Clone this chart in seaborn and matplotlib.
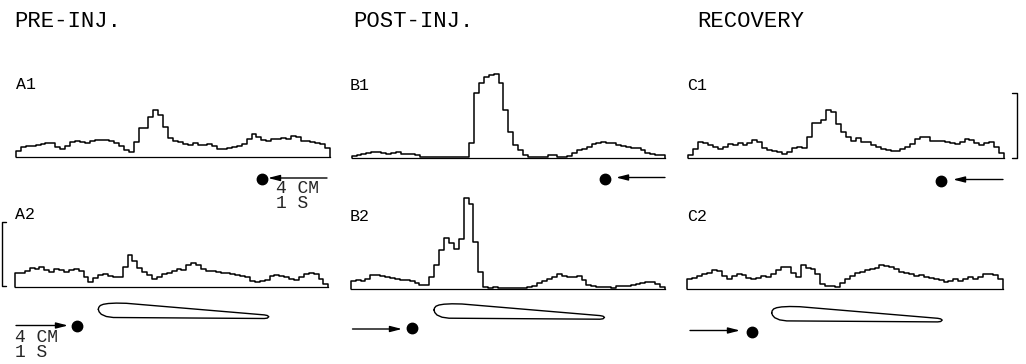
import numpy as np
import pandas as pd
import matplotlib
matplotlib.use("Agg")
import matplotlib.pyplot as plt
import seaborn as sns

# ---- data: binned response traces (arbitrary rate units), 64 bins each ----
A1 = [18, 30, 33, 32, 35, 38, 40, 40, 28, 22,
      33, 45, 48, 44, 42, 47, 50, 50, 50, 48,
      42, 33, 20, 15, 45, 85, 87, 120, 140, 125,
      90, 55, 48, 45, 38, 34, 40, 36, 36, 38,
      33, 24, 22, 27, 30, 32, 38, 52, 68, 58,
      50, 48, 53, 52, 57, 54, 62, 60, 48, 46,
      43, 41, 37, 25]
B1 = [4, 9, 12, 13, 16, 18, 13, 11, 15, 17,
      12, 10, 10, 8, 3, 1, 1, 1, 1, 1,
      1, 1, 1, 1, 43, 193, 223, 241, 248, 251,
      225, 143, 78, 38, 23, 8, 3, 3, 3, 3,
      7, 8, 3, 1, 5, 13, 22, 25, 31, 40,
      45, 46, 45, 43, 38, 36, 32, 30, 28, 22,
      15, 10, 8, 9]
C1 = [10, 28, 50, 47, 40, 35, 27, 33, 43, 40,
      47, 40, 47, 55, 48, 30, 26, 23, 20, 14,
      18, 30, 33, 30, 65, 105, 107, 115, 145, 138,
      103, 80, 65, 53, 60, 50, 50, 40, 33, 28,
      25, 23, 23, 27, 33, 42, 57, 65, 65, 53,
      52, 52, 50, 46, 43, 50, 57, 55, 47, 41,
      45, 50, 35, 15]
A2 = [42, 42, 48, 57, 52, 60, 50, 43, 52, 50,
      45, 50, 53, 46, 28, 14, 26, 35, 38, 32,
      28, 28, 60, 95, 78, 57, 44, 35, 22, 28,
      38, 40, 47, 52, 50, 65, 70, 65, 52, 48,
      47, 45, 42, 40, 38, 36, 33, 28, 17, 14,
      16, 20, 32, 35, 32, 28, 24, 20, 28, 38,
      42, 38, 22, 8]
B2 = [24, 25, 22, 30, 40, 42, 38, 34, 31, 29,
      27, 26, 22, 16, 12, 11, 36, 70, 115, 151,
      138, 118, 150, 272, 255, 140, 50, 6, 2, 4,
      2, 1, 1, 1, 1, 1, 4, 8, 16, 22,
      28, 34, 43, 38, 35, 34, 38, 26, 12, 7,
      6, 4, 4, 3, 8, 8, 7, 11, 14, 18,
      21, 19, 13, 4]
C2 = [31, 35, 40, 45, 49, 57, 56, 40, 31, 40,
      47, 42, 33, 30, 33, 40, 36, 46, 58, 68,
      66, 48, 38, 72, 65, 60, 45, 15, 9, 10,
      7, 20, 30, 40, 48, 52, 57, 60, 65, 72,
      70, 66, 60, 53, 50, 45, 40, 44, 38, 34,
      31, 28, 22, 25, 30, 25, 32, 36, 32, 38,
      46, 47, 42, 30]

COLUMN_TITLES = ["PRE-INJ.", "POST-INJ.", "RECOVERY"]
PANEL_LABELS = ["A1", "B1", "C1", "A2", "B2", "C2"]
SCALE_TEXT = ["4 CM", "1 S"]

# fish outline (shape relative to its nose)
FISH_DX = [0, 0.5, 2, 5, 10, 18, 28, 166, 169, 170.5, 169, 166, 15, 8, 3, 0.8, 0]
FISH_DY = [0, -2, -3.8, -5, -5.8, -6.2, -6, 5.6, 6.2, 7.4, 8.8, 9.2, 8.2, 7.2, 5, 2.5, 0]

# ---- style ----
sns.set_style("white")
plt.rcParams["font.family"] = ["Liberation Mono", "DejaVu Sans Mono"]

W, H = 1026, 364
fig = plt.figure(figsize=(W / 100, H / 100), dpi=100)
fig.patch.set_facecolor("white")

YMAX = 300  # 3 units per pixel, axes 100 px tall


def px_axes(left, right, baseline, height=100):
    return fig.add_axes([left / W, 1 - baseline / H, (right - left) / W, height / H])


layout = [
    ("A1", A1, 16.0, 330.0, 156.7),
    ("B1", B1, 351.7, 665.0, 157.7),
    ("C1", C1, 688.3, 1004.0, 158.3),
    ("A2", A2, 15.0, 328.3, 286.7),
    ("B2", B2, 350.7, 665.0, 288.7),
    ("C2", C2, 687.3, 1002.7, 289.3),
]

for name, vals, left, right, base in layout:
    ax = px_axes(left, right, base)
    n = len(vals)
    xs = [0] + list(range(n)) + [n]
    ys = [0] + list(vals) + [0]
    df = pd.DataFrame({"bin": xs, "rate": ys})
    sns.lineplot(data=df, x="bin", y="rate", ax=ax, estimator=None, sort=False,
                 drawstyle="steps-post", color="black", linewidth=1.1,
                 clip_on=False)
    ax.set_xlim(0, n)
    ax.set_ylim(0, YMAX)
    ax.set_xticks([])
    ax.set_yticks([])
    ax.set_xlabel("")
    ax.set_ylabel("")
    ax.patch.set_alpha(0)
    for s in ["top", "left", "right"]:
        ax.spines[s].set_visible(False)
    ax.spines["bottom"].set_color("black")
    ax.spines["bottom"].set_linewidth(0.9)

# ---- overlay in pixel coordinates for annotations ----
ov = fig.add_axes([0, 0, 1, 1])
ov.set_xlim(0, W)
ov.set_ylim(H, 0)
ov.axis("off")
ov.patch.set_alpha(0)

for t, x in zip(COLUMN_TITLES, [14, 353, 697]):
    ov.text(x, 27, t, fontsize=16, va="baseline", ha="left", color="black")

label_pos = [(16, 89), (350, 90), (687, 90), (15, 219), (350, 221), (687, 221)]
for lab, (x, y) in zip(PANEL_LABELS, label_pos):
    ov.text(x, y, lab, fontsize=12, va="baseline", ha="left", color="black")

# scale annotations
ov.text(276, 193, SCALE_TEXT[0], fontsize=13, va="baseline", ha="left")
ov.text(276, 208, SCALE_TEXT[1], fontsize=13, va="baseline", ha="left")
ov.text(15, 342, SCALE_TEXT[0], fontsize=13, va="baseline", ha="left")
ov.text(15, 357, SCALE_TEXT[1], fontsize=13, va="baseline", ha="left")

# arrows (tail -> tip) and object dots
arrows = [((327, 178), (268, 178)), ((665, 177.5), (616, 177.5)), ((1003, 179.5), (953, 179.5)),
          ((16, 325.5), (68, 325.5)), ((352.5, 329), (402, 329)), ((690, 330.5), (740, 330.5))]
for tail, tip in arrows:
    ov.annotate("", xy=tip, xytext=tail,
                arrowprops=dict(arrowstyle="-|>,head_length=0.7,head_width=0.18",
                                color="black", lw=1.0, shrinkA=0, shrinkB=0))
dots = [(262, 179), (605, 179.3), (941, 180.7), (77, 326), (412.3, 328.3), (751.7, 332)]
for x, y in dots:
    ov.plot([x], [y], "o", ms=7.5, color="black")

# fish outlines
for nx, ny in [(98.3, 309.3), (434.0, 310.0), (771.7, 312.7)]:
    ov.plot(np.array(FISH_DX) + nx, np.array(FISH_DY) + ny, color="black", lw=1.0)

# calibration brackets
ov.plot([1012, 1017, 1017, 1012], [93.3, 93.3, 158.3, 158.3], color="black", lw=1.0)
ov.plot([6, 1.7, 1.7, 6], [221.7, 221.7, 286.0, 286.0], color="black", lw=1.0)

fig.savefig("out.png", dpi=100, facecolor="white")
